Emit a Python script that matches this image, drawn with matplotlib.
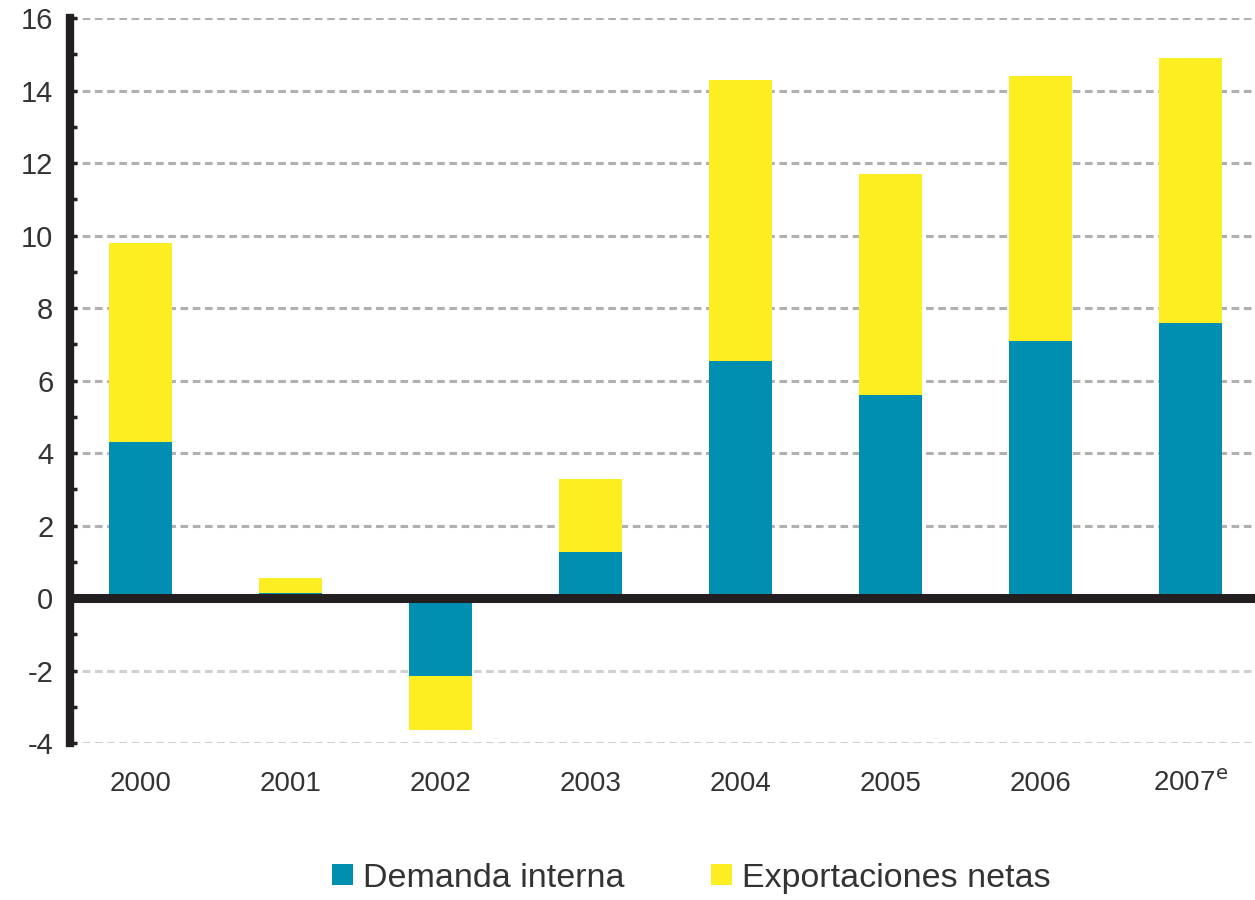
import numpy as np
import matplotlib
matplotlib.use("Agg")
import matplotlib.pyplot as plt

plt.rcParams['font.family'] = ['Liberation Sans', 'DejaVu Sans']
plt.rcParams['axes.unicode_minus'] = False

anios = ["2000", "2001", "2002", "2003", "2004", "2005", "2006", r"2007$^{\mathrm{e}}$"]
demanda_interna = [4.3, 0.15, -2.15, 1.27, 6.55, 5.6, 7.1, 7.6]
exportaciones_netas = [5.5, 0.4, -1.5, 2.0, 7.75, 6.1, 7.3, 7.3]

color_demanda = "#008FB0"
color_export = "#FCEE21"
color_texto = "#333333"

fig = plt.figure(figsize=(12.55, 9), dpi=100)
ax = fig.add_axes([0.0558, 0.1744, 0.9442, 0.8056])

x = np.arange(len(anios))
ancho = 0.42
ax.bar(x, demanda_interna, ancho, color=color_demanda, label="Demanda interna", zorder=3)
ax.bar(x, exportaciones_netas, ancho, bottom=demanda_interna, color=color_export,
       label="Exportaciones netas", zorder=3)

ax.set_xlim(-0.467, 7.43)
ax.set_ylim(-4, 16)

# lineas guia punteadas
for v in range(-4, 17, 2):
    if v != 0:
        gris = "#b0b0b0" if v > 0 else "#d0d0d0"
        ax.axhline(v, color=gris, linestyle=(0, (2.5, 1.5)), linewidth=2.2, zorder=1)
ax.axhline(0, color="#231f20", linewidth=6.5, zorder=4)

ax.set_yticks(range(-4, 17, 2))
ax.set_yticks(range(-3, 16, 2), minor=True)
ax.tick_params(axis="y", which="both", direction="in", length=5, width=2.5,
               color="#231f20", labelsize=21, pad=12, labelcolor=color_texto)
ax.set_xticks(x)
ax.set_xticklabels(anios)
ax.tick_params(axis="x", length=0, labelsize=20, pad=20, labelcolor=color_texto)

for lado in ["top", "right", "bottom"]:
    ax.spines[lado].set_visible(False)
ax.spines["left"].set_linewidth(6)
ax.spines["left"].set_color("#231f20")
ax.spines["left"].set_zorder(5)

leg = fig.legend(loc="lower center", bbox_to_anchor=(0.551, -0.027), ncol=2, frameon=False,
                 fontsize=24.5, handlelength=0.6, handleheight=0.6, columnspacing=2.55,
                 handletextpad=0.3)
for t in leg.get_texts():
    t.set_color(color_texto)

fig.savefig("out.png", dpi=100)
